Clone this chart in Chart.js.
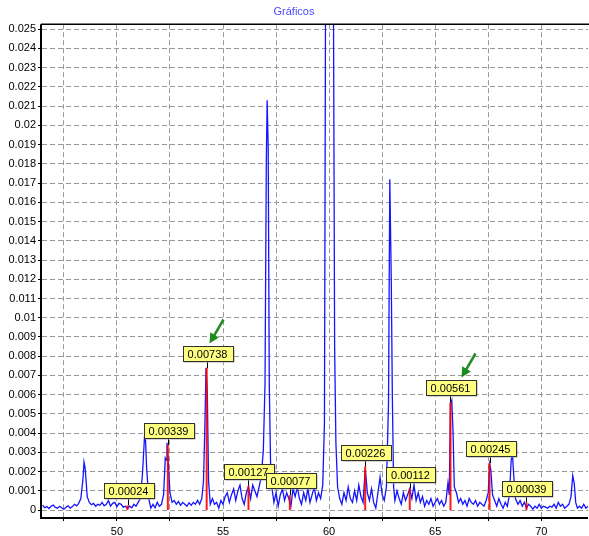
<!DOCTYPE html>
<html>
<head>
<meta charset="utf-8">
<title>Gráficos</title>
<script src="https://cdn.jsdelivr.net/npm/chart.js@4.4.1/dist/chart.umd.min.js"></script>
<style>
    html, body { margin: 0; padding: 0; background: #fff; }
    #spectrumChart { display: block; }
</style>
</head>
<body>
<canvas id="spectrumChart" width="589" height="536"></canvas>
<script>
// spectrum (blue line)
const specX = [
    46.5, 46.6, 46.7, 46.8, 46.9, 47.0, 47.1, 47.2, 47.3, 47.4, 47.5, 47.6, 47.7, 47.8, 47.9, 48.0, 48.1, 48.2, 48.3, 48.4,
    48.45, 48.5, 48.55, 48.6, 48.7, 48.8, 48.9, 49.0, 49.1, 49.2, 49.3, 49.4, 49.5, 49.6, 49.7, 49.8, 49.9, 50.0, 50.1, 50.2,
    50.3, 50.4, 50.5, 50.6, 50.7, 50.8, 50.9, 51.0, 51.1, 51.2, 51.3, 51.35, 51.4, 51.5, 51.6, 51.7, 51.8, 51.9, 52.0, 52.1,
    52.2, 52.28, 52.32, 52.36, 52.42, 52.5, 52.6, 52.7, 52.8, 52.9, 53.0, 53.1, 53.2, 53.3, 53.4, 53.5, 53.6, 53.7, 53.8, 53.9,
    54.0, 54.08, 54.14, 54.2, 54.26, 54.32, 54.4, 54.5, 54.6, 54.7, 54.8, 54.9, 55.0, 55.1, 55.2, 55.3, 55.4, 55.5, 55.6, 55.7,
    55.8, 55.9, 56.0, 56.1, 56.2, 56.3, 56.4, 56.5, 56.6, 56.7, 56.8, 56.9, 56.98, 57.04, 57.08, 57.13, 57.18, 57.24, 57.3, 57.4,
    57.5, 57.6, 57.7, 57.8, 57.9, 58.0, 58.1, 58.2, 58.3, 58.4, 58.5, 58.6, 58.7, 58.8, 58.9, 59.0, 59.1, 59.2, 59.3, 59.4,
    59.5, 59.6, 59.7, 59.78, 59.84, 59.95, 60.05, 60.2, 60.26, 60.32, 60.4, 60.5, 60.6, 60.7, 60.8, 60.9, 61.0, 61.1, 61.2, 61.3,
    61.4, 61.5, 61.6, 61.7, 61.75, 61.8, 61.9, 62.0, 62.1, 62.2, 62.3, 62.4, 62.5, 62.6, 62.7, 62.8, 62.86, 62.93, 62.98, 63.04,
    63.1, 63.2, 63.3, 63.4, 63.5, 63.6, 63.7, 63.8, 63.9, 64.0, 64.1, 64.2, 64.3, 64.4, 64.5, 64.6, 64.7, 64.8, 64.9, 65.0,
    65.1, 65.2, 65.3, 65.4, 65.5, 65.6, 65.66, 65.72, 65.78, 65.84, 65.9, 66.0, 66.1, 66.2, 66.3, 66.4, 66.5, 66.6, 66.7, 66.8,
    66.9, 67.0, 67.1, 67.2, 67.3, 67.4, 67.5, 67.56, 67.62, 67.7, 67.8, 67.9, 68.0, 68.1, 68.2, 68.3, 68.4, 68.5, 68.58, 68.64,
    68.7, 68.78, 68.9, 69.0, 69.1, 69.2, 69.3, 69.4, 69.5, 69.6, 69.7, 69.8, 69.9, 70.0, 70.1, 70.2, 70.3, 70.4, 70.5, 70.6,
    70.7, 70.8, 70.9, 71.0, 71.1, 71.2, 71.3, 71.4, 71.48, 71.55, 71.62, 71.7, 71.8, 71.9, 72.0, 72.1, 72.2
];
const specY = [
    0.00025, 0.00012, 0.00018, 0.00008, 0.0002, 0.00026, 0.00014, 0.0001, 0.0002, 0.00012, 0.00005, 0.00015, 0.00022, 0.0001, 0.00018, 0.0003, 0.00022, 0.00035, 0.0006, 0.0016,
    0.0025, 0.0022, 0.0015, 0.0007, 0.0004, 0.00028, 0.00035, 0.0002, 0.0003, 0.00025, 0.0004, 0.00022, 0.0003, 0.0005, 0.0002, 0.00035, 0.0004, 0.00018, 0.00035, 0.0003,
    0.00015, 0.0002, 0.00008, 0.0002, 0.00012, 0.0003, 0.0002, 0.0004, 0.0006, 0.0018, 0.0038, 0.0036, 0.0022, 0.0006, 0.0001, 0.0003, 0.00012, 0.0004, 0.0002, 0.0003,
    0.0008, 0.0027, 0.0026, 0.0035, 0.0025, 0.0009, 0.0004, 0.0005, 0.0003, 0.00045, 0.00025, 0.0004, 0.0003, 0.0002, 0.00038, 0.00025, 0.0004, 0.0003, 0.0005, 0.0003,
    0.0006, 0.0015, 0.0041, 0.0074, 0.0061, 0.0015, 0.0003, 0.0006, 0.0003, 0.0004, 0.0001, 0.0005, 0.0003, 0.0007, 0.0009, 0.0004, 0.0008, 0.0011, 0.0005, 0.001,
    0.0013, 0.0006, 0.0003, 0.0009, 0.0012, 0.0006, 0.0013, 0.001, 0.0007, 0.0012, 0.0017, 0.0031, 0.0066, 0.018, 0.0213, 0.0188, 0.0066, 0.0025, 0.0012, 0.0004,
    0.0009, 0.0002, 0.0008, 0.0011, 0.0005, 0.0009, 0.0006, 0.0002, 0.0011, 0.0007, 0.0012, 0.0006, 0.0003, 0.0009, 0.0005, 0.0011, 0.0004, 0.0008, 0.0012, 0.0005,
    0.0009, 0.0006, 0.0013, 0.0045, 0.03, 0.032, 0.031, 0.028, 0.0085, 0.0035, 0.0012, 0.0006, 0.0003, 0.0009, 0.0005, 0.0012, 0.0006, 0.0004, 0.001, 0.0005,
    0.0013, 0.0007, 0.0004, 0.0021, 0.0016, 0.0009, 0.0005, 0.0011, 0.0004, 0.0001, 0.0009, 0.0017, 0.0008, 0.0005, 0.0012, 0.0056, 0.0172, 0.0119, 0.0059, 0.0012,
    0.0005, 0.001, 0.0006, 0.0003, 0.0009, 0.0005, 0.0008, 0.0011, 0.0006, 0.0013, 0.0005, 0.0009, 0.0004, 0.0007, 0.0002, 0.0005, 0.0003, 0.0006, 0.0002, 0.0004,
    0.0006, 0.0003, 0.0005, 0.0002, 0.0004, 0.0014, 0.0008, 0.0055, 0.0057, 0.0041, 0.0012, 0.0009, 0.0004, 0.0006, 0.0003, 0.0005, 0.0002, 0.0006, 0.0004, 0.0003,
    0.0005, 0.0002, 0.0004, 0.0003, 0.0002, 0.0005, 0.0009, 0.0024, 0.0021, 0.0008, 0.0005, 0.0002, 0.0006, 0.0003, 0.0001, 0.0004, 0.0002, 0.0008, 0.0026, 0.0029,
    0.0018, 0.0006, 0.0003, 0.0005, 0.0002, 0.0004, 0.0001, 0.0003, 0.0002, 0.00005, 0.0002, 0.0001, 0.0003, 0.0001, 0.0002, 0.00015, 0.0001, 0.0002, 0.00015, 0.0003,
    0.0001, 0.0004, 0.0002, 0.0003, 0.0001, 0.0002, 0.0003, 0.0007, 0.0018, 0.0014, 0.0004, 0.0001, 0.0002, 0.0001, 0.0003, 0.0001, 0.0002
];

// detected peaks (red lines + yellow labels)
const peakPos = [50.5, 52.4, 54.23, 56.2, 58.15, 61.7, 63.8, 65.72, 67.56, 69.3];
const peakVal = [0.00024, 0.00339, 0.00738, 0.00127, 0.00077, 0.00226, 0.00112, 0.00561, 0.00245, 0.00039];
const arrowPeaks = [2, 7];

// axes
const xTicks = [47.5, 50, 52.5, 55, 57.5, 60, 62.5, 65, 67.5, 70];
const xTickLabels = ['', '50', '', '55', '', '60', '', '65', '', '70'];
const yTicks = [0, 0.001, 0.002, 0.003, 0.004, 0.005, 0.006, 0.007, 0.008, 0.009, 0.01, 0.011, 0.012,
    0.013, 0.014, 0.015, 0.016, 0.017, 0.018, 0.019, 0.02, 0.021, 0.022, 0.023, 0.024, 0.025];
const yTickLabels = yTicks.map(v => String(v));

const FONT = '"Liberation Sans", Arial, sans-serif';
const arrowTipDx = { 2: 2, 7: 11 };

const spectrum = specX.map((x, i) => ({ x: x, y: specY[i] }));
const peakLines = [];
peakPos.forEach((p, i) => {
    peakLines.push({ x: p, y: 0 }, { x: p, y: peakVal[i] }, { x: p, y: null });
});

function drawArrow(ctx, tx, ty) {
    const sx = tx + 14, sy = ty - 24;
    const ang = Math.atan2(ty - sy, tx - sx);
    ctx.strokeStyle = '#1e8c1e';
    ctx.fillStyle = '#1e8c1e';
    ctx.lineWidth = 2.5;
    ctx.beginPath();
    ctx.moveTo(sx, sy);
    ctx.lineTo(tx - 6 * Math.cos(ang), ty - 6 * Math.sin(ang));
    ctx.stroke();
    ctx.beginPath();
    ctx.moveTo(tx, ty);
    ctx.lineTo(tx - 10 * Math.cos(ang) + 5 * Math.sin(ang), ty - 10 * Math.sin(ang) - 5 * Math.cos(ang));
    ctx.lineTo(tx - 10 * Math.cos(ang) - 5 * Math.sin(ang), ty - 10 * Math.sin(ang) + 5 * Math.cos(ang));
    ctx.closePath();
    ctx.fill();
}

const peakLabels = {
    id: 'peakLabels',
    afterDatasetsDraw(chart) {
        const { ctx, scales: { x, y } } = chart;
        ctx.save();
        ctx.font = '11px ' + FONT;
        ctx.textAlign = 'center';
        ctx.textBaseline = 'middle';
        peakPos.forEach((p, i) => {
            const px = Math.round(x.getPixelForValue(p)) + 0.5;
            const py = y.getPixelForValue(peakVal[i]);
            const text = peakVal[i].toFixed(5);
            const w = Math.round(ctx.measureText(text).width + 10);
            const h = 15;
            const bx = Math.round(px - w / 2) + 0.5;
            const by = Math.round(py - 7 - h) + 0.5;
            ctx.strokeStyle = '#000';
            ctx.lineWidth = 1;
            ctx.beginPath();
            ctx.moveTo(px, by + h);
            ctx.lineTo(px, py);
            ctx.stroke();
            ctx.fillStyle = '#a8a8a8';
            ctx.fillRect(bx + 1, by + 1, w, h);
            ctx.fillStyle = '#ffff80';
            ctx.fillRect(bx, by, w, h);
            ctx.strokeStyle = '#303030';
            ctx.strokeRect(bx, by, w, h);
            ctx.fillStyle = '#000';
            ctx.fillText(text, px, by + h / 2 + 0.5);
            if (arrowPeaks.includes(i)) {
                drawArrow(ctx, px + arrowTipDx[i], by - 3);
            }
        });
        ctx.restore();
    }
};

const frame = {
    id: 'frame',
    afterDraw(chart) {
        const { ctx, chartArea: a } = chart;
        ctx.save();
        ctx.strokeStyle = '#000';
        ctx.lineWidth = 2;
        ctx.beginPath();
        ctx.moveTo(a.left - 1, a.top);
        ctx.lineTo(a.left - 1, a.bottom + 1);
        ctx.lineTo(a.right, a.bottom + 1);
        ctx.stroke();
        ctx.lineWidth = 1.5;
        ctx.beginPath();
        ctx.moveTo(a.left - 1, a.top);
        ctx.lineTo(a.right + 1, a.top);
        ctx.stroke();
        ctx.restore();
    }
};

const ctx = document.getElementById('spectrumChart');
new Chart(ctx, {
    type: 'line',
    data: {
        datasets: [
            {
                label: 'Peaks',
                data: peakLines,
                borderColor: 'rgba(255, 0, 0, 0.9)',
                borderWidth: 2,
                pointRadius: 0,
                spanGaps: false
            },
            {
                label: 'Spectrum',
                data: spectrum,
                borderColor: 'rgb(20, 20, 255)',
                borderWidth: 1.3,
                pointRadius: 0,
                tension: 0
            }
        ]
    },
    options: {
        responsive: false,
        animation: false,
        events: [],
        layout: { padding: { left: 0, right: 1, top: 0, bottom: 0 } },
        plugins: {
            legend: { display: false },
            tooltip: { enabled: false },
            title: {
                display: true,
                text: 'Gráficos',
                color: '#4a4aff',
                font: { family: FONT, size: 11, weight: 'normal' },
                padding: { top: 5, bottom: 6 }
            }
        },
        scales: {
            x: {
                type: 'linear',
                min: 46.47,
                max: 72.2,
                afterBuildTicks: (s) => { s.ticks = xTicks.map(v => ({ value: v })); },
                afterFit: (s) => { s.height = 19; },
                ticks: {
                    autoSkip: false,
                    maxRotation: 0,
                    padding: 4,
                    color: '#000',
                    font: { family: FONT, size: 11 },
                    callback: (v, i) => xTickLabels[i]
                },
                grid: { color: '#999999', tickColor: '#000', tickLength: 4, lineWidth: 1 },
                border: { display: false, dash: [5, 3] }
            },
            y: {
                min: -0.00036,
                max: 0.02526,
                afterBuildTicks: (s) => { s.ticks = yTicks.map(v => ({ value: v })); },
                afterFit: (s) => { s.width = 42; },
                ticks: {
                    autoSkip: false,
                    padding: 2,
                    color: '#000',
                    font: { family: FONT, size: 11 },
                    callback: (v, i) => yTickLabels[i]
                },
                grid: { color: '#999999', tickColor: '#000', tickLength: 4, lineWidth: 1 },
                border: { display: false, dash: [5, 3] }
            }
        }
    },
    plugins: [peakLabels, frame]
});
</script>
</body>
</html>
